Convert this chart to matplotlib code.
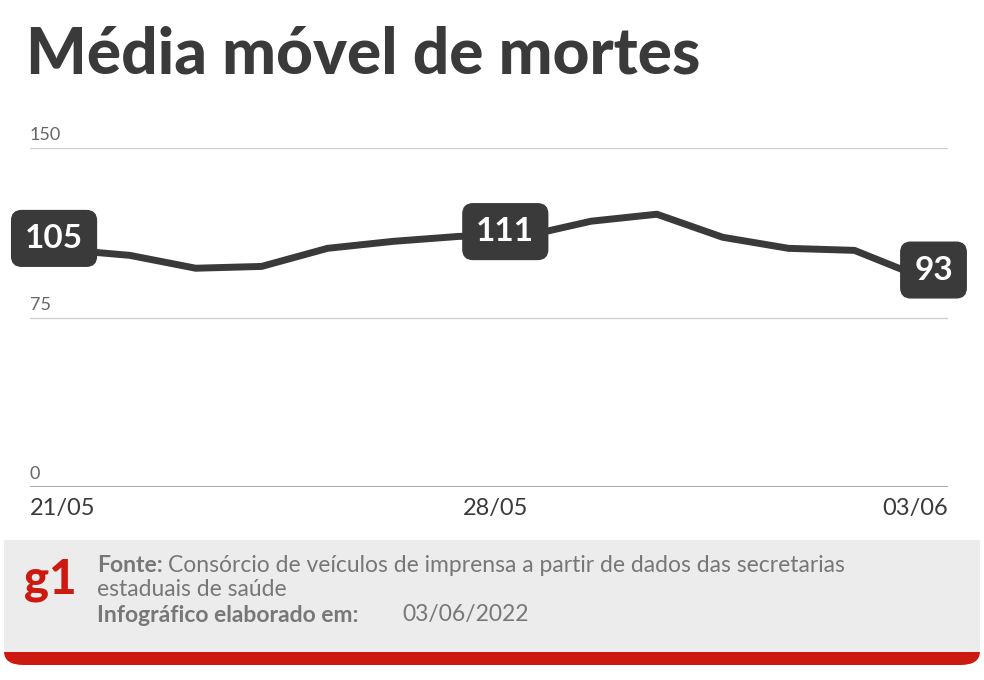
import matplotlib
matplotlib.use("Agg")
import matplotlib.pyplot as plt
from matplotlib.patches import FancyBboxPatch, Rectangle

days = list(range(14))
values = [105, 102.5, 96.8, 97.6, 105.6, 108.7, 110.9, 111, 117.6, 120.7, 110.5, 105.6, 104.7, 93]
x_ticks = [0, 7, 13]
x_labels = ["21/05", "28/05", "03/06"]
y_ticks = [0, 75, 150]
labeled = [(0, "105"), (7, "111"), (13, "93")]

W, H = 984, 680
fig = plt.figure(figsize=(W/100, H/100), dpi=100)
fig.patch.set_facecolor("white")
dark = "#3a3a3a"
ff = "Lato"

fig.text(26/W, 1-55/H, "Média móvel de mortes", fontsize=46, fontweight="black",
         family=ff, color=dark, va="center", ha="left")

ax = fig.add_axes([30/W, 1-487/H, 918/W, (487-148)/H])
ax.set_xlim(-0.515, 13.42)
ax.set_ylim(0, 150)
for s in ax.spines.values():
    s.set_visible(False)
ax.set_xticks([]); ax.set_yticks([])
for yt in y_ticks:
    ax.axhline(yt, color="#999999" if yt == 0 else "#d0d0d0", lw=1.2 if yt == 0 else 1, zorder=1)
    ax.text(-0.515, yt + 2, str(yt), fontsize=13, family=ff, color="#666666",
            va="bottom", ha="left")
ax.plot(days, values, color=dark, lw=5, zorder=2, solid_joinstyle="round")

offs = {0: (-0.15, 5), 7: (-0.3, 2), 13: (0.2, 3)}
for d, lab in labeled:
    ax.annotate(lab, (d + offs[d][0], values[d] + offs[d][1]), fontsize=24, fontweight="bold",
                family=ff, color="white", ha="center", va="center", zorder=5,
                bbox=dict(boxstyle="round,pad=0.4,rounding_size=0.3", fc=dark, ec=dark))

for xt, lab in zip(x_ticks, x_labels):
    ha = "left" if xt == 0 else ("right" if xt == 13 else "center")
    xx = -0.515 if xt == 0 else (13.42 if xt == 13 else 6.55)
    ax.text(xx, -5, lab, fontsize=17, family=ff, color=dark, ha=ha, va="top")

# footer
fig.patches.append(FancyBboxPatch((4/W, 1-665/H), 976/W, 125/H, boxstyle="round,pad=0,rounding_size=0.02",
                                  transform=fig.transFigure, fc="#cc1a10", ec="none", zorder=0))
fig.patches.append(Rectangle((4/W, 1-652/H), 976/W, 112/H, transform=fig.transFigure,
                             fc="#ececec", ec="none", zorder=1))
fig.text(24/W, 1-580/H, "g1", fontsize=34, fontweight="black", family=ff, color="#cc1a10",
         va="center", ha="left")
fs = 16.5
grey = "#777777"
fig.text(97/W, 1-566/H, "Fonte:", fontsize=fs, fontweight="bold", family=ff, color=grey, va="center")
fig.text(168/W, 1-566/H, "Consórcio de veículos de imprensa a partir de dados das secretarias",
         fontsize=fs, family=ff, color=grey, va="center")
fig.text(97/W, 1-589/H, "estaduais de saúde", fontsize=fs, family=ff, color=grey, va="center")
fig.text(97/W, 1-615/H, "Infográfico elaborado em:", fontsize=fs, fontweight="bold", family=ff,
         color=grey, va="center")
fig.text(402/W, 1-615/H, "03/06/2022", fontsize=fs, family=ff, color=grey, va="center")

fig.savefig("out.png", dpi=100)
